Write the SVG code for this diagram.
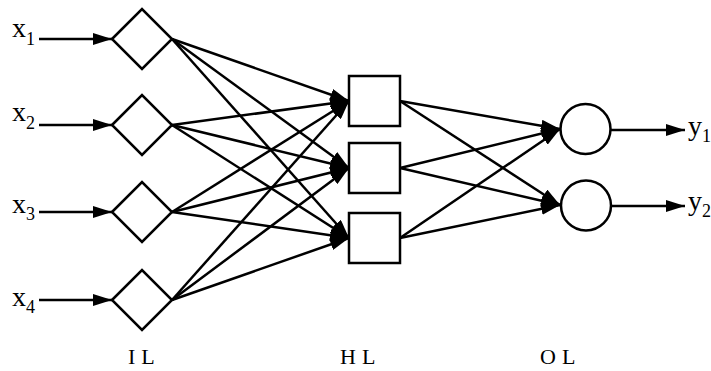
<svg xmlns="http://www.w3.org/2000/svg" width="711" height="371" viewBox="0 0 711 371">
<style>
.n{fill:#fff;stroke:#000;stroke-width:2.5}
.c line{stroke:#000;stroke-width:2.5;marker-end:url(#ah)}
.t{font-family:"Liberation Serif","Times New Roman",serif;fill:#000}
.v{font-size:28px}
.s{font-size:18px}
.lay{font-size:22px;letter-spacing:6px}
</style>
<defs>
<marker id="ah" markerUnits="userSpaceOnUse" markerWidth="19" markerHeight="12" refX="19" refY="6" orient="auto">
<path d="M0,0 L19,6 L0,12 z" fill="#000"/>
</marker>
</defs>
<rect width="711" height="371" fill="#fff"/>
<g class="c" id="connectors">
<line x1="39" y1="39" x2="112" y2="39"/>
<line x1="39" y1="125" x2="112" y2="125"/>
<line x1="39" y1="212" x2="112" y2="212"/>
<line x1="39" y1="300" x2="112" y2="300"/>
<line x1="172" y1="39" x2="349" y2="101"/>
<line x1="172" y1="39" x2="349" y2="168"/>
<line x1="172" y1="39" x2="349" y2="238"/>
<line x1="172" y1="125" x2="349" y2="101"/>
<line x1="172" y1="125" x2="349" y2="168"/>
<line x1="172" y1="125" x2="349" y2="238"/>
<line x1="172" y1="212" x2="349" y2="101"/>
<line x1="172" y1="212" x2="349" y2="168"/>
<line x1="172" y1="212" x2="349" y2="238"/>
<line x1="172" y1="300" x2="349" y2="101"/>
<line x1="172" y1="300" x2="349" y2="168"/>
<line x1="172" y1="300" x2="349" y2="238"/>
<line x1="400" y1="101" x2="560" y2="129"/>
<line x1="400" y1="101" x2="560" y2="205"/>
<line x1="400" y1="168" x2="560" y2="129"/>
<line x1="400" y1="168" x2="560" y2="205"/>
<line x1="400" y1="238" x2="560" y2="129"/>
<line x1="400" y1="238" x2="560" y2="205"/>
<line x1="611" y1="130" x2="685" y2="130"/>
<line x1="611" y1="206" x2="685" y2="206"/>
</g>
<g id="in1"><polygon class="n" points="112,39 142,9 172,39 142,69"/></g>
<g id="in2"><polygon class="n" points="112,125 142,95 172,125 142,155"/></g>
<g id="in3"><polygon class="n" points="112,212 142,182 172,212 142,242"/></g>
<g id="in4"><polygon class="n" points="112,300 142,270 172,300 142,330"/></g>
<g id="h1"><rect class="n" x="349" y="76" width="51" height="50"/></g>
<g id="h2"><rect class="n" x="349" y="143" width="51" height="50"/></g>
<g id="h3"><rect class="n" x="349" y="213" width="51" height="50"/></g>
<g id="o1"><circle class="n" cx="585.5" cy="129" r="25"/></g>
<g id="o2"><circle class="n" cx="586" cy="205.5" r="25"/></g>
<g id="labels" class="t">
<text class="v" x="12" y="37">x<tspan class="s" dy="8">1</tspan></text>
<text class="v" x="12" y="121">x<tspan class="s" dy="8">2</tspan></text>
<text class="v" x="12" y="213">x<tspan class="s" dy="7">3</tspan></text>
<text class="v" x="12" y="306">x<tspan class="s" dy="7">4</tspan></text>
<text class="v" x="688" y="135">y<tspan class="s" dy="7">1</tspan></text>
<text class="v" x="688" y="210">y<tspan class="s" dy="7">2</tspan></text>
<text class="lay" x="128" y="364">IL</text>
<text class="lay" x="340" y="364">HL</text>
<text class="lay" x="540" y="364">OL</text>
</g>
</svg>
